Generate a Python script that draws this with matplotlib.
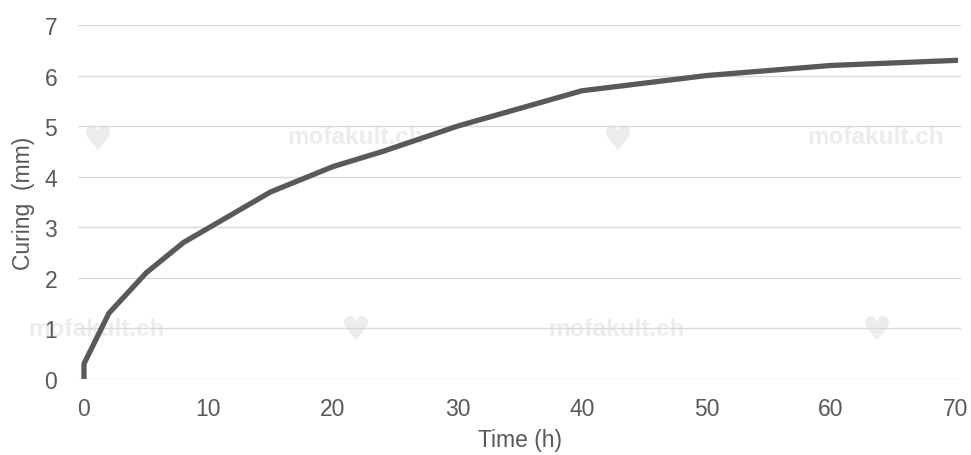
import matplotlib
matplotlib.use('Agg')
import matplotlib.pyplot as plt

# curing depth over time
time_h = [0, 0, 2, 5, 8, 15, 20, 24, 30, 40, 50, 60, 70]
curing_mm = [0, 0.3, 1.3, 2.1, 2.7, 3.7, 4.2, 4.5, 5.0, 5.7, 6.0, 6.2, 6.3]

x_ticks = [0, 10, 20, 30, 40, 50, 60, 70]
y_ticks = [0, 1, 2, 3, 4, 5, 6, 7]

plt.rcParams['font.family'] = ['Liberation Sans', 'DejaVu Sans']

grey = '#595959'

fig = plt.figure(figsize=(9.71, 4.56), dpi=100)
ax = fig.add_axes([78/971, 1-380/456, (961-78)/971, (380-26)/456])
ax.set_zorder(1)
ax.patch.set_alpha(0)

# faint watermarks (behind the plot)
wm = '#ececec'
for (px, py) in [(356, 138), (876, 138), (97, 330), (617, 330)]:
    fig.text(px/971, 1-py/456, 'mofakult.ch', color=wm, fontsize=17.5,
             fontweight='bold', ha='center', va='center', zorder=0)
for (px, py) in [(97, 140), (617, 140), (355, 330), (876, 330)]:
    fig.text(px/971, 1-py/456, '\u2665', color=wm, fontsize=24,
             ha='center', va='center', zorder=0, family=['DejaVu Sans'])

ax.plot(time_h, curing_mm, color=grey, linewidth=3.8, solid_capstyle='projecting',
        solid_joinstyle='round', zorder=3)

ax.set_xlim(-0.48, 70.45)
ax.set_ylim(0, 7)
ax.set_xticks(x_ticks)
ax.set_yticks(y_ticks)
ax.grid(axis='y', color='#d9d9d9', linewidth=1)
ax.set_axisbelow(True)
for s in ax.spines.values():
    s.set_visible(False)
ax.tick_params(length=0, labelsize=16.5, labelcolor=grey)
ax.tick_params(axis='x', pad=13)
ax.tick_params(axis='y', pad=15)
ax.set_xlabel('Time (h)', fontsize=16.5, color=grey, labelpad=6)
ax.set_ylabel('Curing  (mm)', fontsize=16.5, color=grey, labelpad=7)

fig.savefig('out.png', dpi=100)
